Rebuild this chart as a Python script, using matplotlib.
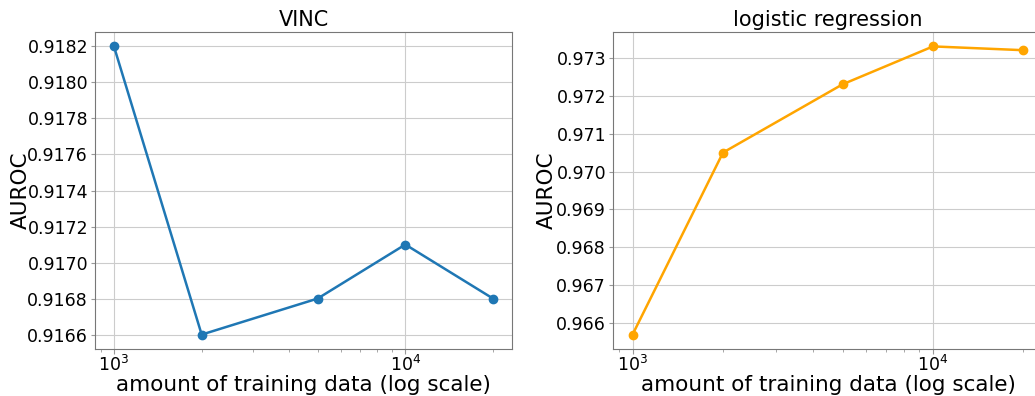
import matplotlib
matplotlib.use('Agg')
import matplotlib.pyplot as plt

# training set sizes and AUROC for each method
train_sizes = [1000, 2000, 5000, 10000, 20000]
vinc_auroc = [0.9182, 0.9166, 0.9168, 0.9171, 0.9168]
logreg_auroc = [0.9657, 0.9705, 0.9723, 0.9733, 0.9732]

plt.rcParams['font.family'] = 'DejaVu Sans'

fig = plt.figure(figsize=(10.35, 3.96), dpi=100)
ax1 = fig.add_axes([95 / 1035, 1 - 349 / 396, 417 / 1035, 317 / 396])
ax2 = fig.add_axes([613 / 1035, 1 - 349 / 396, 430 / 1035, 317 / 396])


def style_axes(ax, title, ylab_x):
    ax.set_xscale('log')
    ax.set_title(title, fontsize=15, pad=4)
    ax.set_xlabel('amount of training data (log scale)', fontsize=15.5, labelpad=0)
    ax.set_ylabel('AUROC', fontsize=15.5)
    ax.yaxis.set_label_coords(ylab_x, 0.5)
    ax.grid(True, which='major', color='#cccccc', linewidth=0.8)
    ax.set_axisbelow(True)
    ax.tick_params(axis='both', which='both', labelsize=12.5, color='#999999')
    ax.tick_params(axis='y', length=3, pad=2)
    ax.tick_params(axis='x', which='major', length=3.5, pad=0.5)
    ax.tick_params(axis='x', which='minor', length=2)
    for s in ax.spines.values():
        s.set_color('#777777')


ax1.plot(train_sizes, vinc_auroc, marker='o', color='#1f77b4', linewidth=1.8, markersize=6)
style_axes(ax1, 'VINC', -0.155)
ax1.set_yticks([0.9166, 0.9168, 0.9170, 0.9172, 0.9174, 0.9176, 0.9178, 0.9180, 0.9182])
ax1.set_yticklabels(['0.9166', '0.9168', '0.9170', '0.9172', '0.9174', '0.9176', '0.9178', '0.9180', '0.9182'])

ax2.plot(train_sizes, logreg_auroc, marker='o', color='orange', linewidth=1.8, markersize=6)
style_axes(ax2, 'logistic regression', -0.130)
ax2.set_yticks([0.966, 0.967, 0.968, 0.969, 0.970, 0.971, 0.972, 0.973])
ax2.set_yticklabels(['0.966', '0.967', '0.968', '0.969', '0.970', '0.971', '0.972', '0.973'])

fig.savefig('out.png', dpi=100)
